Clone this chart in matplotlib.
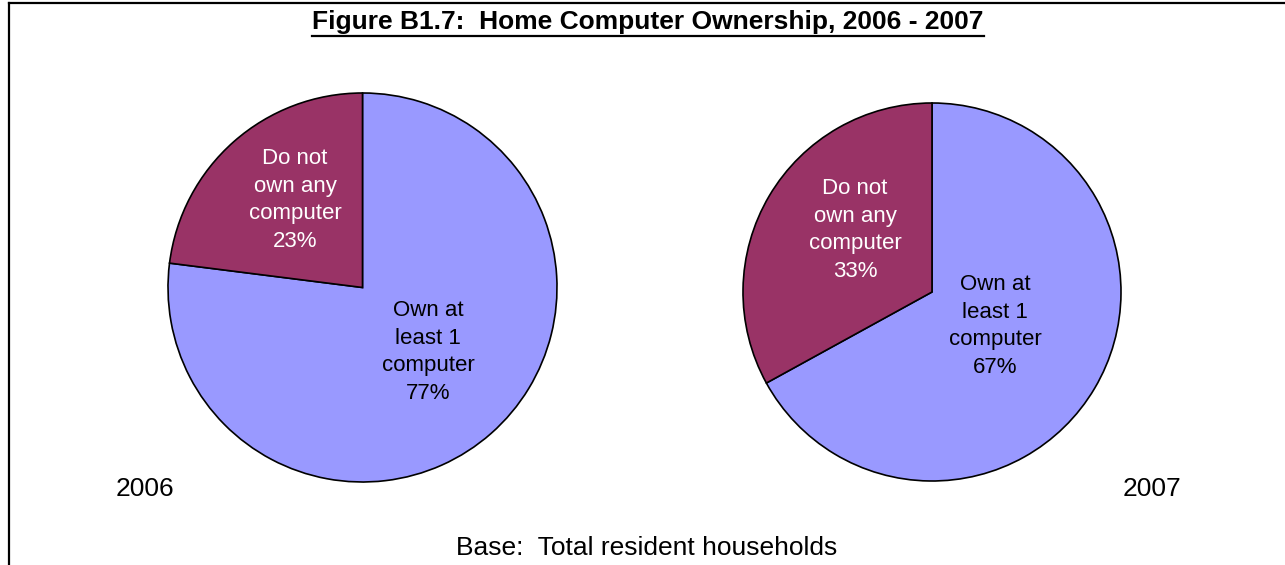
import matplotlib
matplotlib.use("Agg")
import matplotlib.pyplot as plt
from matplotlib.lines import Line2D

# Home computer ownership shares (%)
segments = ["Own at\nleast 1\ncomputer", "Do not\nown any\ncomputer"]
share_2006 = [77, 23]
share_2007 = [67, 33]
years = ["2006", "2007"]

title = "Figure B1.7:  Home Computer Ownership, 2006 - 2007"
base_note = "Base:  Total resident households"

colors = ["#9999FF", "#993366"]
text_colors = ["black", "white"]

W, H = 1285, 565
plt.rcParams["font.family"] = ["Liberation Sans", "DejaVu Sans"]

fig = plt.figure(figsize=(W / 100, H / 100), dpi=100)
ax = fig.add_axes([0, 0, 1, 1])

# pie centre / radius in pixels, label offsets in radius units
pies = [
    (share_2006, (362.5, H - 287.5), 194.5, [(0.337, -0.332), (-0.347, 0.45)]),
    (share_2007, (932, H - 292), 189, [(0.333, -0.18), (-0.407, 0.328)]),
]
for vals, c, r, offs in pies:
    ax.pie(vals, colors=colors, startangle=90, counterclock=False,
           center=c, radius=r,
           wedgeprops=dict(edgecolor="black", linewidth=1.2))
    for seg, v, tc, (fx, fy) in zip(segments, vals, text_colors, offs):
        ax.text(c[0] + fx * r, c[1] + fy * r, f"{seg}\n{v}%",
                ha="center", va="center", color=tc, fontsize=16,
                linespacing=1.4)

ax.set_xlim(0, W)
ax.set_ylim(0, H)
ax.set_aspect("auto")
ax.axis("off")

ax.text(145, H - 489, years[0], ha="center", va="center", fontsize=19)
ax.text(1152, H - 489, years[1], ha="center", va="center", fontsize=19)
ax.text(647, H - 548, base_note, ha="center", va="center", fontsize=19)

t = ax.text(648, H - 22, title, ha="center", va="center", fontsize=19,
            fontweight="bold")

# underline the title
fig.canvas.draw()
bb = t.get_window_extent()
uy = H - 36
fig.add_artist(Line2D([bb.x0 / W, bb.x1 / W], [uy / H, uy / H], color="black", lw=1.6))

# frame round the chart (open on the right and bottom)
fig.add_artist(Line2D([9 / W, 9 / W], [0, 1 - 3 / H], color="black", lw=1.6))
fig.add_artist(Line2D([9 / W, 1], [1 - 3 / H, 1 - 3 / H], color="black", lw=1.6))

fig.savefig("out.png", dpi=100)
